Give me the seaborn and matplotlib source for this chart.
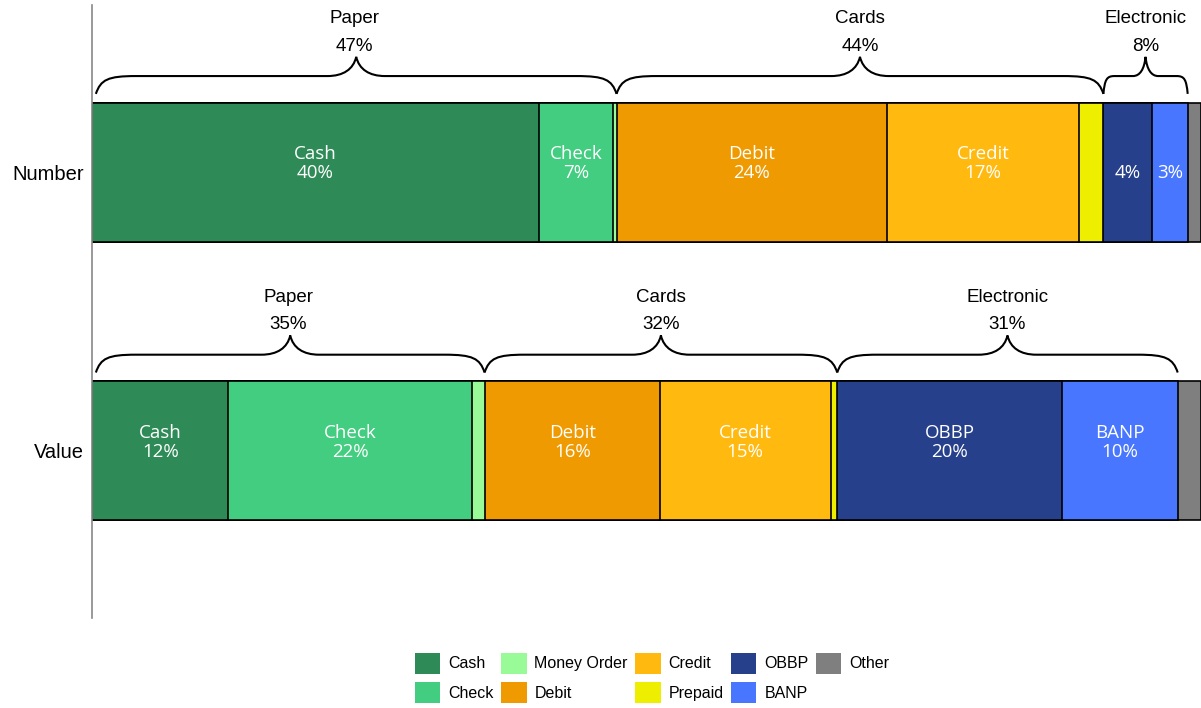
import numpy as np
import pandas as pd
import matplotlib
matplotlib.use('Agg')
import matplotlib.pyplot as plt
from matplotlib.path import Path
from matplotlib.patches import PathPatch, Patch
import seaborn as sns

# --- data (percent shares) ---
rows = ['Number', 'Value']
methods = ['Cash', 'Check', 'Money Order', 'Debit', 'Credit', 'Prepaid', 'OBBP', 'BANP', 'Other']
number_share = [40.3, 6.7, 0.3, 24.4, 17.3, 2.2, 4.4, 3.2, 1.2]
value_share = [12.3, 22.0, 1.1, 15.8, 15.4, 0.6, 20.3, 10.4, 2.1]
groups = {'Paper': ['Cash', 'Check', 'Money Order'],
          'Cards': ['Debit', 'Credit', 'Prepaid'],
          'Electronic': ['OBBP', 'BANP']}

colors = ['#2E8B57', '#43CD80', '#98FB98', '#EE9A00', '#FFB90F',
          '#EEEE00', '#27408B', '#4876FF', '#7F7F7F']
palette = dict(zip(methods, colors))

df = pd.DataFrame({'row': np.repeat(rows, len(methods)),
                   'method': methods * 2,
                   'share': number_share + value_share})
df['end'] = df.groupby('row')['share'].cumsum()
df['start'] = df['end'] - df['share']

sns.set_theme(style='white')
plt.rcParams['font.family'] = ['Liberation Sans', 'DejaVu Sans']
plt.rcParams['text.color'] = 'black'
plt.rcParams['ytick.color'] = 'black'
plt.rcParams['ytick.labelcolor'] = 'black'

fig = plt.figure(figsize=(12.01, 7.08), dpi=100)
ax = fig.add_axes([92 / 1201, 1 - 618 / 708, 1 - 92 / 1201, 613 / 708])

# stacked bars: draw cumulative totals from the last segment backwards
for m in methods[::-1]:
    sub = df[df['method'] == m]
    sns.barplot(data=sub, x='end', y='row', order=rows, orient='h', color=palette[m],
                width=0.5, edgecolor='black', linewidth=1.2, saturation=1, ax=ax)

ax.set_xlim(0, 100)
ax.set_ylim(1.6, -0.6)
ax.set_xlabel('')
ax.set_ylabel('')
ax.set_xticks([])
ax.tick_params(axis='y', length=0, labelsize=14.5, pad=6)
for s in ['top', 'right', 'bottom']:
    ax.spines[s].set_visible(False)
ax.spines['left'].set_color('#888888')
ax.spines['left'].set_linewidth(1.2)


# labels inside bars
for i, r in enumerate(rows):
    sub = df[df['row'] == r]
    for _, d in sub.iterrows():
        xc = (d['start'] + d['end']) / 2
        if d['share'] >= 6:
            ax.text(xc, i - 0.065, d['method'], ha='center', va='center', color='white',
                    fontsize=13.5, family='Open Sans')
        if d['share'] >= 3:
            ax.text(xc, i + 0.003, f"{d['share']:.0f}%", ha='center', va='center',
                    color='white', fontsize=13.5, family='Open Sans')


def brace(ax, x0, x1, c):
    ye, ym, yt = c - 0.281, c - 0.345, c - 0.414
    w = x1 - x0
    xm = (x0 + x1) / 2
    r = min(3.6, w * 0.13)
    r2 = min(2.6, w * 0.15)
    dy = ye - ym
    dt = ym - yt
    verts = [(x0, ye),
             (x0 + 0.12 * r, ym + 0.2 * dy), (x0 + 0.3 * r, ym), (x0 + r, ym),
             (xm - r2, ym),
             (xm - 0.45 * r2, ym), (xm - 0.1 * r2, ym - 0.35 * dt), (xm, yt),
             (xm + 0.1 * r2, ym - 0.35 * dt), (xm + 0.45 * r2, ym), (xm + r2, ym),
             (x1 - r, ym),
             (x1 - 0.3 * r, ym), (x1 - 0.12 * r, ym + 0.2 * dy), (x1, ye)]
    codes = [Path.MOVETO] + [Path.CURVE4] * 3 + [Path.LINETO] + [Path.CURVE4] * 6 + \
            [Path.LINETO] + [Path.CURVE4] * 3
    ax.add_patch(PathPatch(Path(verts, codes), fill=False, lw=1.5, edgecolor='black',
                           clip_on=False))


for i, r in enumerate(rows):
    sub = df[df['row'] == r].set_index('method')
    for g, members in groups.items():
        x0 = sub.loc[members[0], 'start']
        x1 = sub.loc[members[-1], 'end']
        total = sub.loc[members, 'share'].sum()
        inset = 0.35 if x0 < 1 else 0
        brace(ax, x0 + inset, x1, i)
        xm = (x0 + x1) / 2
        ax.text(xm, i - 0.55, g, ha='center', va='center', fontsize=13.5, clip_on=False)
        ax.text(xm, i - 0.452, f"{total:.0f}%", ha='center', va='center', fontsize=13.5,
                clip_on=False)

handles = [Patch(facecolor=palette[m], edgecolor='none', label=m) for m in methods]
fig.legend(handles=handles, ncol=5, loc='center', bbox_to_anchor=(0.543, 0.0425),
           frameon=False, fontsize=11.5, handlelength=1.6, handleheight=1.6,
           handletextpad=0.5, columnspacing=0.45, labelspacing=0.55)

fig.savefig('out.png', dpi=100)
